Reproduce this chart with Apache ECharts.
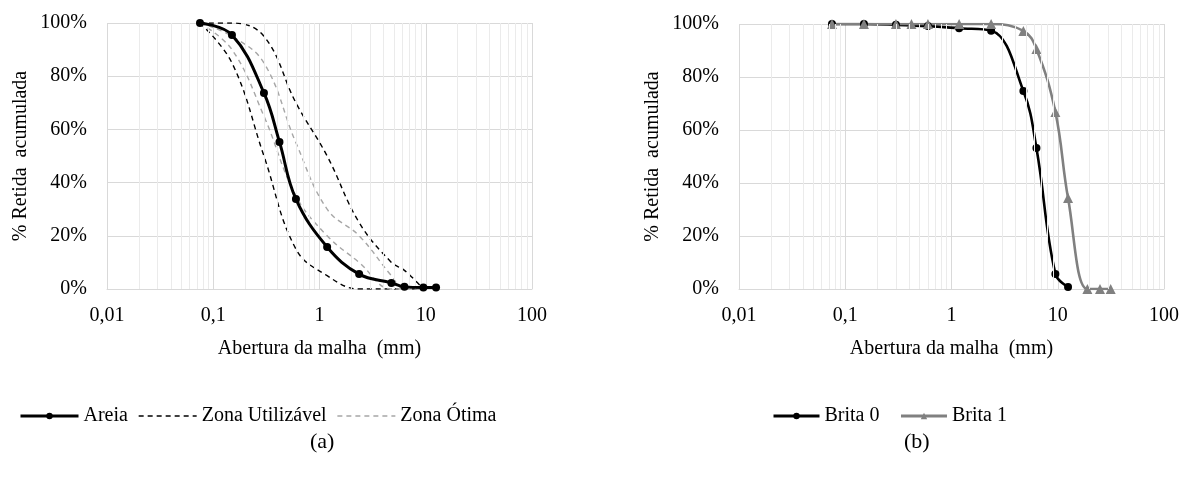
<!DOCTYPE html>
<html><head><meta charset="utf-8">
<script src="https://cdn.jsdelivr.net/npm/echarts@6/dist/echarts.min.js"></script>
<style>html,body{margin:0;padding:0;background:#fff}#c{width:1182px;height:479px}</style>
</head><body><div id="c"></div>
<script>
// ---- data ----
const sieveAreia = [0.075, 0.15, 0.3, 0.42, 0.6, 1.18, 2.36, 4.75, 6.3, 9.5, 12.5];
const areia      = [100, 95.5, 73.7, 55.3, 33.8, 15.8, 5.6, 2.3, 0.8, 0.6, 0.6];
const sieveZona  = [0.075, 0.15, 0.3, 0.6, 1.18, 2.36, 4.75, 6.3, 9.5];
const utilInf    = [100, 85, 50, 15, 5, 0, 0, 0, 0];
const utilSup    = [100, 100, 95, 70, 50, 25, 10, 7, 0];
const otimaInf   = [100, 90, 65, 35, 20, 10, 0, 0, 0];
const otimaSup   = [100, 95, 85, 55, 30, 20, 5, 0, 0];
const sieveB0    = [0.075, 0.15, 0.3, 0.6, 1.18, 2.36, 4.75, 6.3, 9.5, 12.5];
const brita0     = [100, 100, 99.7, 99.2, 98.4, 97.5, 74.7, 53.2, 5.7, 0.8];
const sieveB1    = [0.075, 0.15, 0.3, 0.42, 0.6, 1.18, 2.36, 4.75, 6.3, 9.5, 12.5, 19, 25, 31.5];
const brita1     = [100, 100, 100, 100, 100, 100, 100, 97.4, 90.6, 66.8, 34.3, 0, 0, 0];
const decades    = [0.01, 0.1, 1, 10];
const yTickStep  = 20;
const xName = 'Abertura da malha  (mm)';
const yName = '% Retida  acumulada';

// ---- helpers ----
const FONT = 'Liberation Serif';
const pairs = (xs, ys) => xs.map((x, i) => [x, ys[i]]);
const minorTicks = [];
decades.forEach(d => { for (let k = 2; k <= 9; k++) minorTicks.push(+(k * d).toPrecision(3)); });

function xAxisCfg(gi) {
  return {
    type: 'log', logBase: 10, min: 0.01, max: 100, gridIndex: gi,
    name: xName, nameLocation: 'middle', nameGap: 50,
    nameTextStyle: { fontFamily: FONT, fontSize: 20, color: '#000' },
    axisLine: { show: true, lineStyle: { color: '#d9d9d9', width: 1 } },
    axisTick: { show: false },
    axisLabel: { fontFamily: FONT, fontSize: 20, color: '#000', margin: 17,
      formatter: v => String(v).replace('.', ',') },
    splitLine: { show: true, lineStyle: { color: '#d9d9d9', width: 1 } }
  };
}
function yAxisCfg(gi) {
  return {
    type: 'value', min: 0, max: 100, interval: yTickStep, gridIndex: gi,
    name: yName, nameLocation: 'middle', nameGap: 76,
    nameTextStyle: { fontFamily: FONT, fontSize: 20, color: '#000' },
    axisLine: { show: false }, axisTick: { show: false },
    axisLabel: { fontFamily: FONT, fontSize: 20, color: '#000', margin: 20, formatter: '{value}%' },
    splitLine: { show: true, lineStyle: { color: '#d9d9d9', width: 1 } }
  };
}
function minorSeries(gi) {
  return {
    type: 'line', data: [], xAxisIndex: gi, yAxisIndex: gi, z: 1, silent: true,
    markLine: { silent: true, symbol: ['none', 'none'], animation: false,
      label: { show: false },
      lineStyle: { color: '#ebebeb', type: 'solid', width: 1 },
      data: minorTicks.map(v => ({ xAxis: v })) }
  };
}
const dash = [5, 4];
const noMark = { color: 'rgba(0,0,0,0)', borderWidth: 0 };

const option = {
  animation: false,
  backgroundColor: '#fff',
  grid: [
    { left: 107, top: 23, width: 425, height: 266 },
    { left: 739, top: 24, width: 425, height: 265 }
  ],
  xAxis: [xAxisCfg(0), xAxisCfg(1)],
  yAxis: [yAxisCfg(0), yAxisCfg(1)],
  title: [
    { text: '(a)', left: 305, top: 426, textStyle: { fontFamily: FONT, fontSize: 22, fontWeight: 'normal', color: '#000' } },
    { text: '(b)', left: 899, top: 426, textStyle: { fontFamily: FONT, fontSize: 22, fontWeight: 'normal', color: '#000' } }
  ],
  legend: [
    { left: 14, top: 401, itemWidth: 58, itemHeight: 8, itemGap: 10,
      data: [{ name: 'Areia', lineStyle: { width: 3 } },
             { name: 'Zona Utilizável', itemStyle: noMark, lineStyle: { width: 1.5 } },
             { name: 'Zona Ótima', itemStyle: noMark, lineStyle: { width: 1.5 } }],
      textStyle: { fontFamily: FONT, fontSize: 20, color: '#000' } },
    { left: 767, top: 401, itemWidth: 46, itemHeight: 8, itemGap: 20,
      data: [{ name: 'Brita 0', lineStyle: { width: 3 } }, { name: 'Brita 1', lineStyle: { width: 3 } }],
      textStyle: { fontFamily: FONT, fontSize: 20, color: '#000' } }
  ],
  series: [
    minorSeries(0), minorSeries(1),
    { name: 'Zona Utilizável', type: 'line', xAxisIndex: 0, yAxisIndex: 0, smooth: 0.4, showSymbol: false, symbol: 'none',
      data: pairs(sieveZona, utilInf), lineStyle: { color: '#000', width: 1.4, type: dash }, itemStyle: { color: '#000' } },
    { name: 'Zona Utilizável', type: 'line', xAxisIndex: 0, yAxisIndex: 0, smooth: 0.4, showSymbol: false, symbol: 'none',
      data: pairs(sieveZona, utilSup), lineStyle: { color: '#000', width: 1.4, type: dash }, itemStyle: { color: '#000' } },
    { name: 'Zona Ótima', type: 'line', xAxisIndex: 0, yAxisIndex: 0, smooth: 0.4, showSymbol: false, symbol: 'none',
      data: pairs(sieveZona, otimaInf), lineStyle: { color: '#a6a6a6', width: 1.4, type: dash }, itemStyle: { color: '#a6a6a6' } },
    { name: 'Zona Ótima', type: 'line', xAxisIndex: 0, yAxisIndex: 0, smooth: 0.4, showSymbol: false, symbol: 'none',
      data: pairs(sieveZona, otimaSup), lineStyle: { color: '#a6a6a6', width: 1.4, type: dash }, itemStyle: { color: '#a6a6a6' } },
    { name: 'Areia', type: 'line', xAxisIndex: 0, yAxisIndex: 0, smooth: 0.4, symbol: 'circle', symbolSize: 8, z: 5,
      data: pairs(sieveAreia, areia), lineStyle: { color: '#000', width: 3 }, itemStyle: { color: '#000' } },
    { name: 'Brita 0', type: 'line', xAxisIndex: 1, yAxisIndex: 1, smooth: 0.4, symbol: 'circle', symbolSize: 8,
      data: pairs(sieveB0, brita0), lineStyle: { color: '#000', width: 2.6 }, itemStyle: { color: '#000' } },
    { name: 'Brita 1', type: 'line', xAxisIndex: 1, yAxisIndex: 1, smooth: 0.4, symbol: 'triangle', symbolSize: 10,
      data: pairs(sieveB1, brita1), lineStyle: { color: '#808080', width: 2.6 }, itemStyle: { color: '#808080' } }
  ]
};
const chart = echarts.init(document.getElementById('c'), null, { renderer: 'canvas' });
chart.setOption(option);
</script></body></html>
